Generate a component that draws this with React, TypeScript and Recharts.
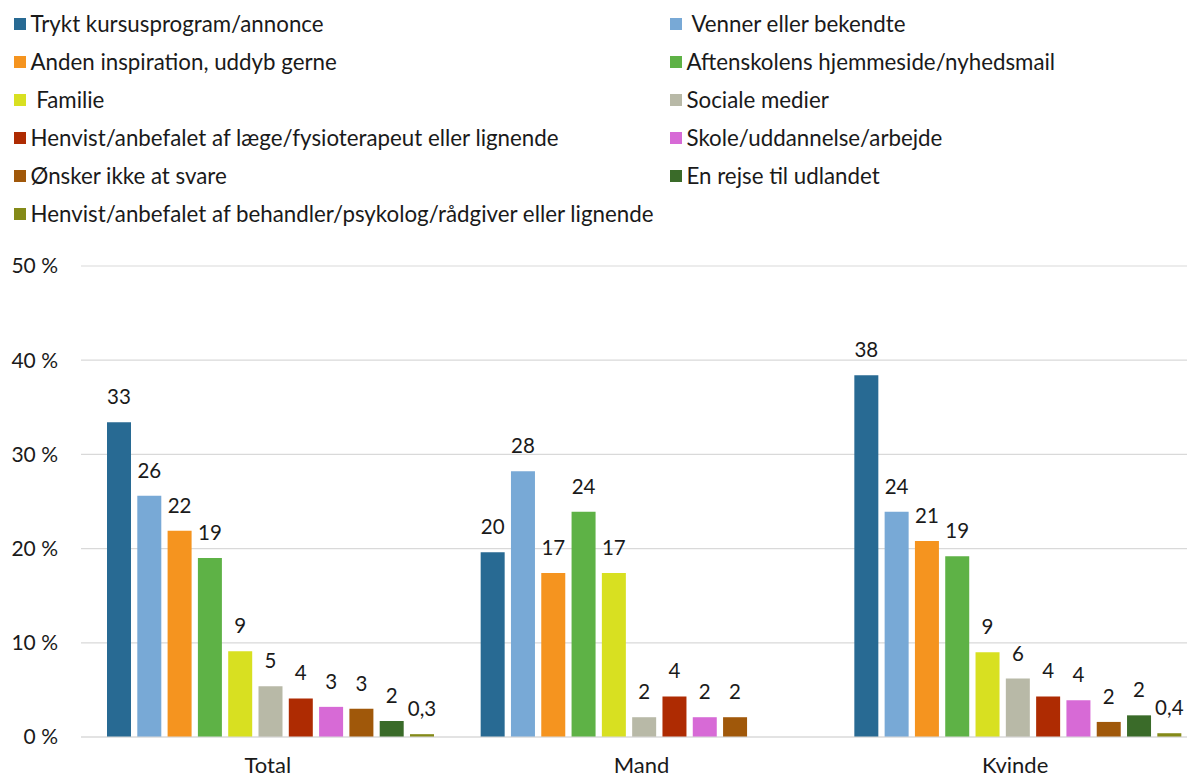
import React from 'react';
import { BarChart, Bar, XAxis, YAxis, CartesianGrid, LabelList } from 'recharts';

const categories = ['Total', 'Mand', 'Kvinde'];

const seriesNames = [
  'Trykt kursusprogram/annonce',
  ' Venner eller bekendte',
  'Anden inspiration, uddyb gerne',
  'Aftenskolens hjemmeside/nyhedsmail',
  ' Familie',
  'Sociale medier',
  'Henvist/anbefalet af læge/fysioterapeut eller lignende',
  'Skole/uddannelse/arbejde',
  'Ønsker ikke at svare',
  'En rejse til udlandet',
  'Henvist/anbefalet af behandler/psykolog/rådgiver eller lignende',
];

const seriesColors = [
  '#286A93',
  '#78A9D6',
  '#F5941F',
  '#5EB246',
  '#D8E021',
  '#B8B9A7',
  '#AE2B02',
  '#D76AD6',
  '#A0580A',
  '#3A6B29',
  '#848A18',
];

// values per category: Total, Mand, Kvinde
const trykt = [33.4, 19.6, 38.4];
const venner = [25.6, 28.2, 23.9];
const anden = [21.9, 17.4, 20.8];
const aftenskole = [19.0, 23.9, 19.2];
const familie = [9.1, 17.4, 9.0];
const sociale = [5.4, 2.1, 6.2];
const laege = [4.1, 4.3, 4.3];
const skole = [3.2, 2.1, 3.9];
const oensker = [3.0, 2.1, 1.6];
const rejse = [1.7, null, 2.3];
const behandler = [0.3, null, 0.4];

const seriesValues = [trykt, venner, anden, aftenskole, familie, sociale, laege, skole, oensker, rejse, behandler];

const yTicks = [0, 10, 20, 30, 40, 50];

const data = categories.map((c, ci) => {
  const row: Record<string, any> = { category: c };
  seriesValues.forEach((vals, si) => {
    row['s' + si] = vals[ci];
  });
  return row;
});

const FONT = 'Lato, "Open Sans", sans-serif';
const TEXT = '#1a1a1a';

const fmtLabel = (v: any) => {
  if (v === null || v === undefined) return '';
  const n = Number(v);
  if (n < 1) return n.toFixed(1).replace('.', ',');
  return String(Math.round(n));
};

function LegendBlock() {
  return (
    <div style={{ position: 'absolute', left: 0, top: 0, width: 1187, height: 240 }}>
      {seriesNames.map((name, i) => {
        const row = Math.floor(i / 2);
        const col = i % 2;
        const cy = 24 + row * 38;
        const swLeft = col === 0 ? 13.5 : 669.5;
        return (
          <div key={name} style={{ position: 'absolute', left: swLeft, top: cy - 12, height: 24, display: 'flex', alignItems: 'center' }}>
            <div style={{ width: 12.5, height: 12.5, background: seriesColors[i], marginRight: 4.5, flex: 'none' }} />
            <span style={{ whiteSpace: 'pre', fontSize: 22.3, color: TEXT, fontFamily: FONT, lineHeight: '24px' }}>{name}</span>
          </div>
        );
      })}
    </div>
  );
}

export default function App() {
  return (
    <div style={{ position: 'absolute', left: 0, top: 0, width: 1187, height: 778, overflow: 'hidden', background: '#fff', fontFamily: FONT }}>
      <LegendBlock />
      <div style={{ position: 'absolute', left: 0, top: 0 }}>
        <BarChart
          width={1202}
          height={787}
          data={data}
          margin={{ top: 266, right: 0, bottom: 0, left: 0 }}
          barCategoryGap={26}
          barGap={6.3}
        >
          <CartesianGrid vertical={false} stroke="#d9d9d9" strokeWidth={1.2} />
          <XAxis
            dataKey="category"
            height={50}
            axisLine={{ stroke: '#d9d9d9', strokeWidth: 1.2 }}
            tickLine={false}
            tickSize={0}
            tickMargin={20}
            tick={{ fill: TEXT, fontSize: 22, fontFamily: FONT }}
          />
          <YAxis
            width={81}
            domain={[0, 50]}
            ticks={yTicks}
            axisLine={false}
            tickLine={false}
            tickSize={0}
            tickMargin={23}
            tickFormatter={(v: number) => `${v} %`}
            tick={{ fill: TEXT, fontSize: 21, fontFamily: FONT }}
          />
          {seriesNames.map((name, i) => (
            <Bar key={name} dataKey={'s' + i} name={name} fill={seriesColors[i]} isAnimationActive={false}>
              <LabelList
                dataKey={'s' + i}
                position="top"
                offset={18}
                formatter={fmtLabel}
                fill={TEXT}
                fontSize={20.5}
                fontFamily={FONT}
              />
            </Bar>
          ))}
        </BarChart>
      </div>
    </div>
  );
}
